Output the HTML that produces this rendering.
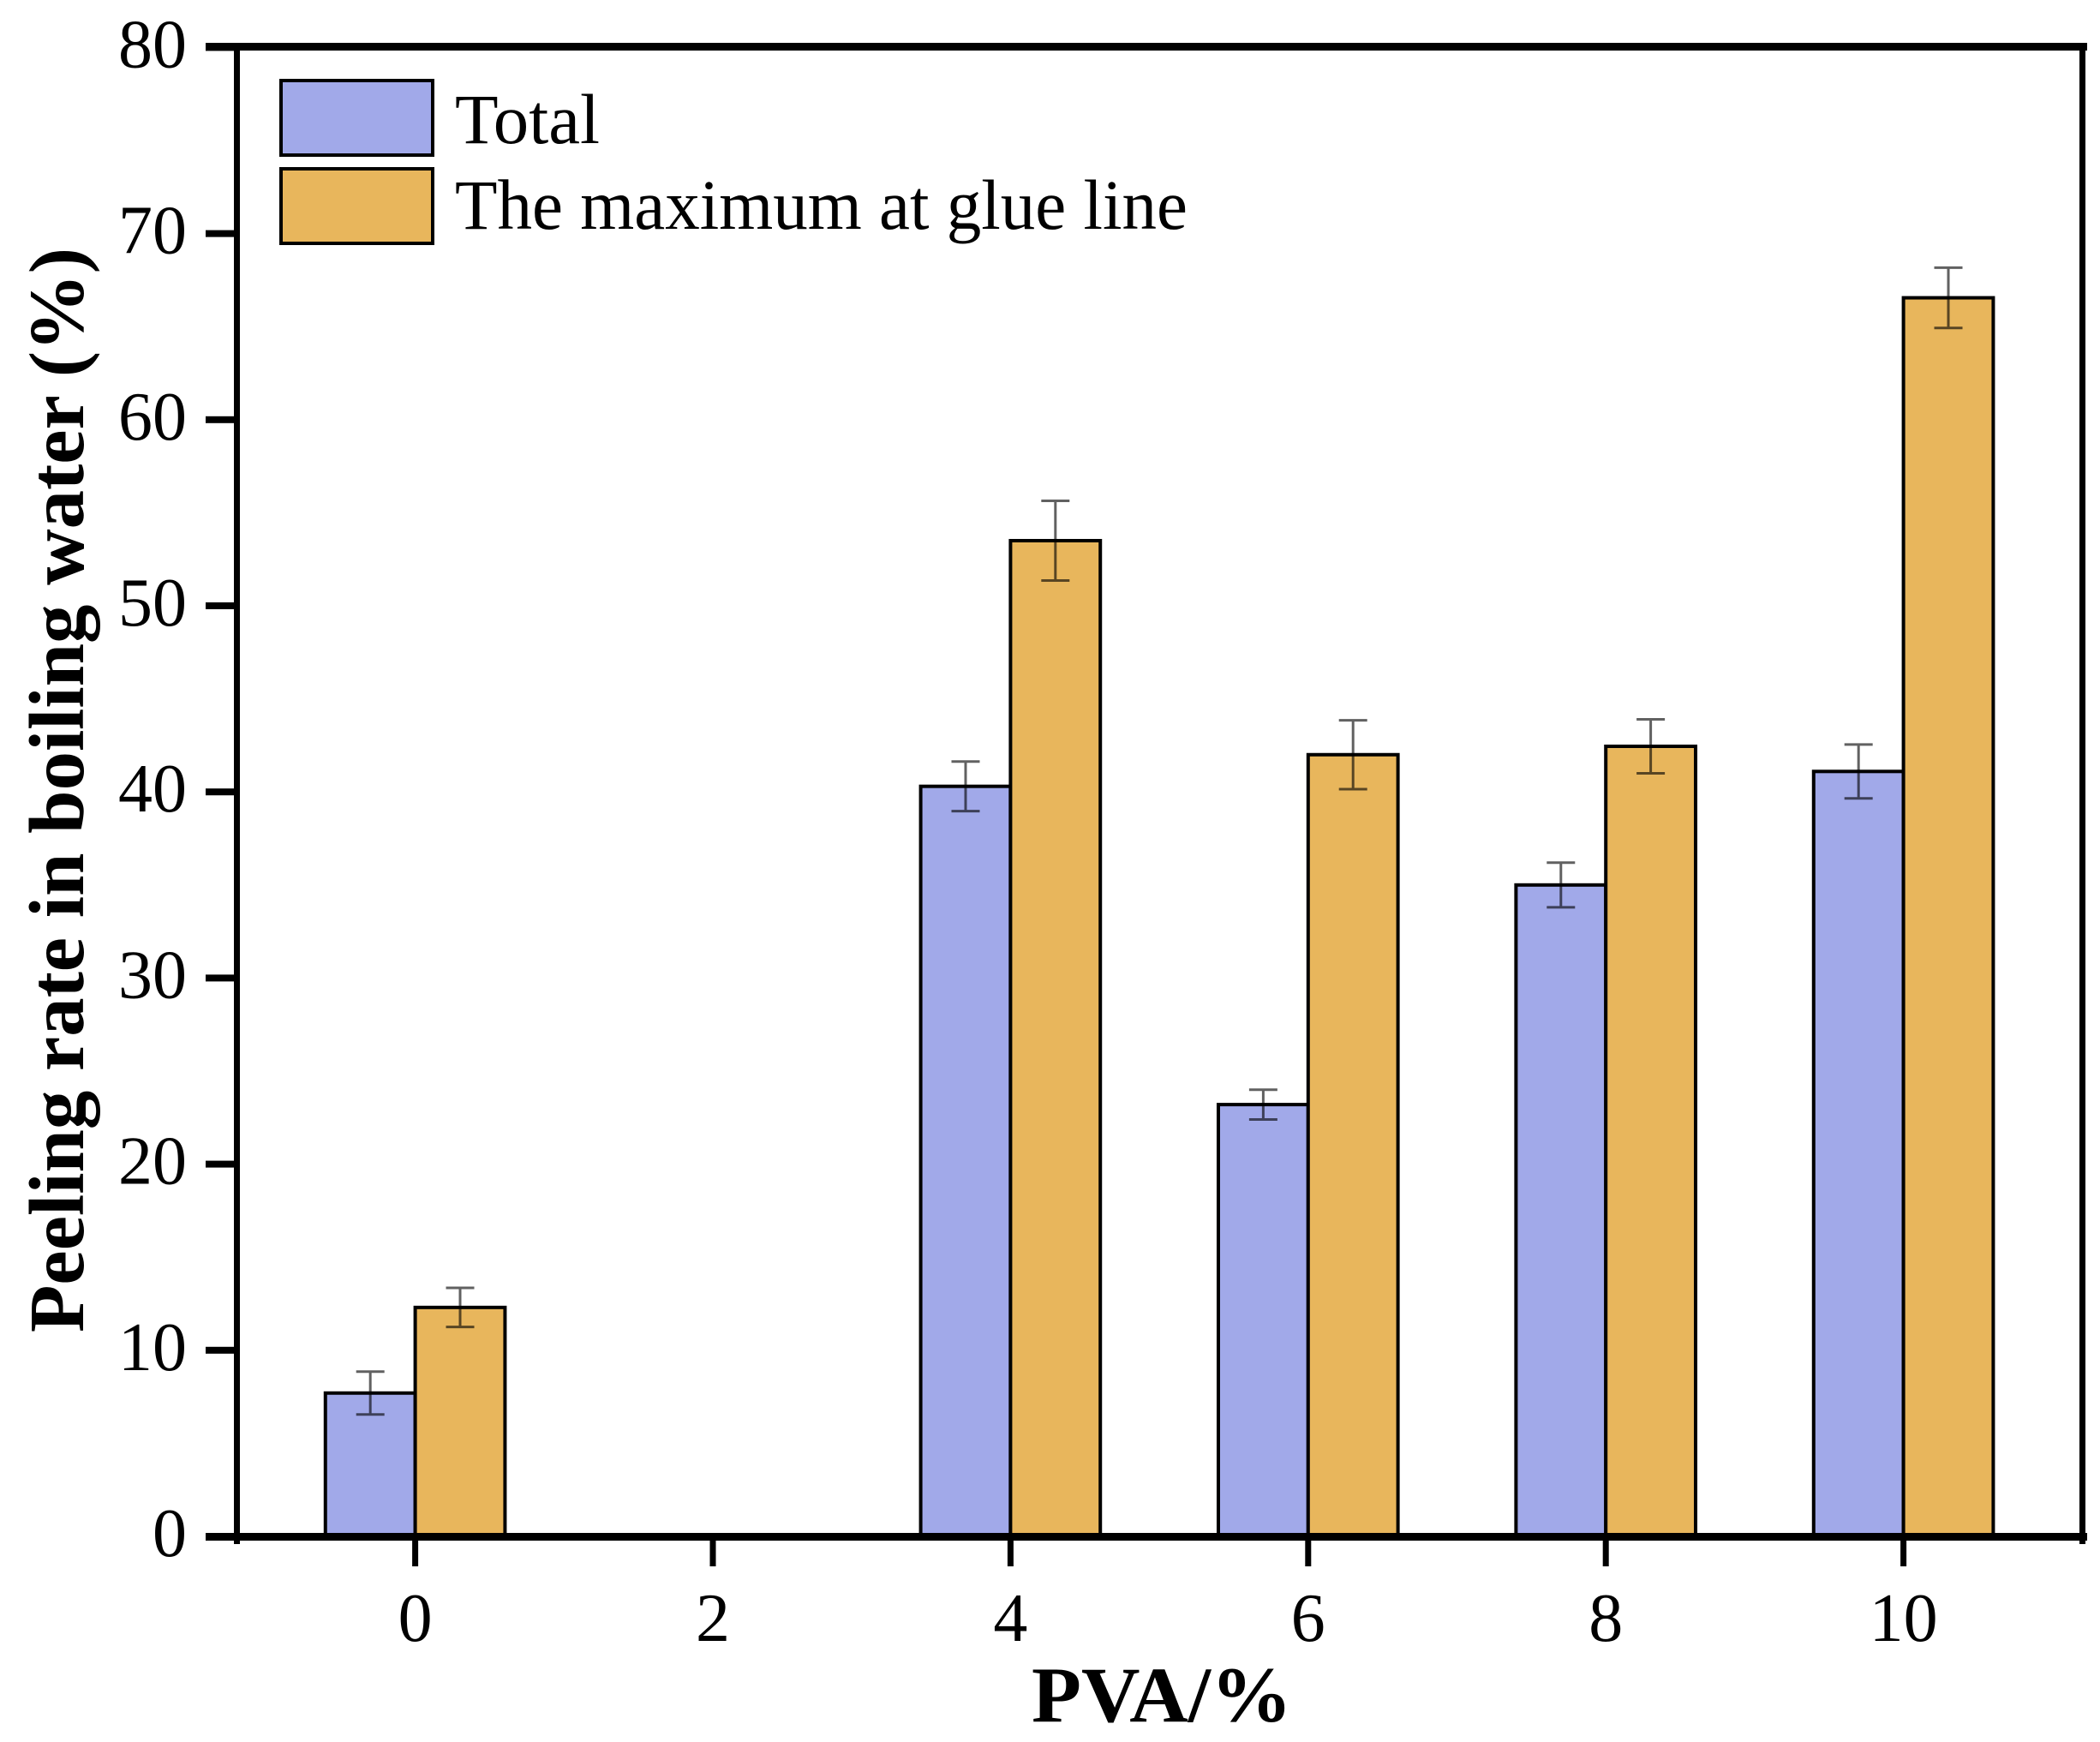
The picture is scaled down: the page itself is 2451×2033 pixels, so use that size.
<!DOCTYPE html>
<html lang="en">
<head>
<meta charset="utf-8">
<title>Peeling rate in boiling water vs PVA</title>
<style>
html,body{margin:0;padding:0;background:#fff;width:2451px;height:2033px;overflow:hidden}
svg{display:block}
text{font-family:"Liberation Serif",serif;fill:#000}
</style>
</head>
<body>
<svg id="chart" xmlns="http://www.w3.org/2000/svg" width="2451" height="2033" viewBox="0 0 2451 2033">
  <rect x="0" y="0" width="2451" height="2033" fill="#fff"/>
  <g id="bars"></g>
  <g id="errors"></g>
  <g id="frame">
    <rect x="240" y="50" width="2196" height="9" fill="#000"/>
    <rect x="273" y="50" width="7" height="1752" fill="#000"/>
    <rect x="2427" y="50" width="7" height="1752" fill="#000"/>
    <rect x="240" y="1789" width="2196" height="9" fill="#000"/>
  </g>
  <g id="yticks"></g>
  <g id="xticks"></g>
  <g>
    <rect x="328" y="94" width="177" height="87" fill="#A1A9E9" stroke="#000" stroke-width="4"/>
    <text x="531" y="167" font-size="83" textLength="169" lengthAdjust="spacingAndGlyphs">Total</text>
    <rect x="328" y="197" width="177" height="87" fill="#E8B65C" stroke="#000" stroke-width="4"/>
    <text x="531" y="267" font-size="83" textLength="855" lengthAdjust="spacingAndGlyphs">The maximum at glue line</text>
  </g>
  <text transform="translate(97 922) rotate(-90)" text-anchor="middle" font-size="91" font-weight="bold" textLength="1266" lengthAdjust="spacingAndGlyphs">Peeling rate in boiling water (%)</text>
  <text x="1204" y="2009" font-size="92" font-weight="bold" textLength="304" lengthAdjust="spacingAndGlyphs">PVA/%</text>
</svg>
<script>
var categories = [0, 2, 4, 6, 8, 10];
var totalValues = [7.7, 0, 40.3, 23.2, 35.0, 41.1];
var totalErrors = [1.15, 0, 1.33, 0.8, 1.2, 1.45];
var maxValues = [12.3, 0, 53.5, 42.0, 42.45, 66.55];
var maxErrors = [1.05, 0, 2.14, 1.85, 1.45, 1.62];
var yTickLabels = [0, 10, 20, 30, 40, 50, 60, 70, 80];
var xTickLabels = ["0", "2", "4", "6", "8", "10"];

var NS = 'http://www.w3.org/2000/svg';
function xScale(v) { return 484.6 + v * 173.7; }
function yScale(v) { return 1793 - v * 21.72; }
var barWidth = 0.6 * 173.7 + 0.6;

function make(tag, parent, props) {
  var el = document.createElementNS(NS, tag);
  for (var k in props) { el.setAttribute(k, props[k]); }
  parent.appendChild(el);
  return el;
}

var barsGroup = document.getElementById('bars');
var errorsGroup = document.getElementById('errors');
var yTicksGroup = document.getElementById('yticks');
var xTicksGroup = document.getElementById('xticks');

function drawSeries(seriesName, values, errors, color, offset) {
  categories.forEach(function (cat, i) {
    var left = xScale(cat) + offset;
    var top = yScale(values[i]);
    var bar = make('rect', barsGroup, {
      x: left, y: top, width: barWidth, height: yScale(0) - top,
      fill: color, stroke: '#000', 'stroke-width': 4
    });
    
    

    if (errors[i] > 0) {
      var cx = left + barWidth / 2;
      var yHigh = yScale(values[i] + errors[i]);
      var yLow = yScale(values[i] - errors[i]);
      var err = make('path', errorsGroup, {
        d: 'M' + (cx - 16.5) + ' ' + yHigh + 'H' + (cx + 16.5) +
           'M' + cx + ' ' + yHigh + 'V' + yLow +
           'M' + (cx - 16.5) + ' ' + yLow + 'H' + (cx + 16.5),
        fill: 'none', stroke: 'rgba(0,0,0,0.62)', 'stroke-width': 3
      });
      
      
    }
  });
}

drawSeries('total', totalValues, totalErrors, '#A1A9E9', -barWidth);
drawSeries('maximum', maxValues, maxErrors, '#E8B65C', 0);

yTickLabels.forEach(function (label) {
  var y = yScale(label);
  var tick = make('rect', yTicksGroup, { x: 240, y: y - 4, width: 36, height: 8, fill: '#000' });
  
  
  var text = make('text', yTicksGroup, { x: 218, y: y + 23, 'text-anchor': 'end', 'font-size': 80 });
  text.textContent = label;
  
  
});

xTickLabels.forEach(function (label, i) {
  var x = xScale(categories[i]);
  var tick = make('rect', xTicksGroup, { x: x - 3.5, y: 1793, width: 7, height: 35, fill: '#000' });
  
  
  var text = make('text', xTicksGroup, { x: x, y: 1915, 'text-anchor': 'middle', 'font-size': 80 });
  text.textContent = label;
  
  
});
</script>
</body>
</html>
